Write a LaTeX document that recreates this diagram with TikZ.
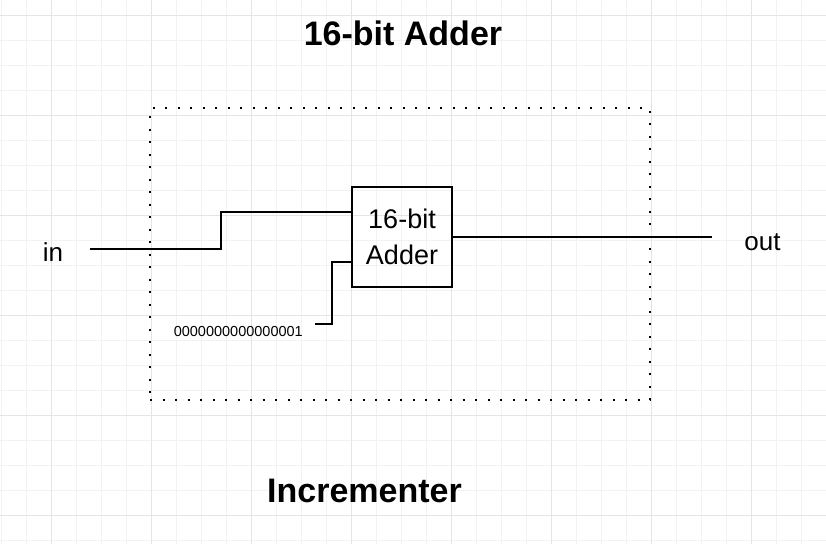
\documentclass[tikz,border=0pt]{standalone}
\usepackage{fontspec}
\setmainfont{Liberation Sans}
\begin{document}
\begin{tikzpicture}[x=1pt,y=-1pt,
  wire/.style={line width=2pt, line join=miter},
  gate/.style={draw, line width=2pt, minimum width=100pt, minimum height=100pt, inner sep=0pt, align=center, font=\fontsize{27}{36.5}\selectfont},
  framebox/.style={draw, line width=2pt, dash pattern=on 2pt off 10.5pt, minimum width=500pt, minimum height=292pt, inner sep=0pt},
  title/.style={font=\fontsize{34}{40}\selectfont\bfseries, anchor=base, inner sep=0pt},
  port/.style={font=\fontsize{26}{30}\selectfont, anchor=base, inner sep=0pt},
  small/.style={font=\fontsize{14.5}{17}\selectfont, anchor=base, inner sep=0pt}]
\useasboundingbox (0,0) rectangle (826,544);
\fill[white] (0,0) rectangle (826,544);
% grid
\foreach \x in {1.7,26.7,...,826} {\draw[line width=0.8pt, color=black!5] (\x,0) -- (\x,544);}
\foreach \y in {15,40,...,544} {\draw[line width=0.8pt, color=black!5] (0,\y) -- (826,\y);}
\foreach \x in {51.7,151.7,...,826} {\draw[line width=1pt, color=black!10] (\x,0) -- (\x,544);}
\foreach \y in {15,115,...,544} {\draw[line width=1pt, color=black!10] (0,\y) -- (826,\y);}
% frame
\node[framebox] (frame) at (400,254) {};
% labels
\node[title] (ttl) at (403,45) {16-bit Adder};
\node[title] (inc) at (364.5,502) {Incrementer};
\node[port] (inlab) at (53,261.7) {in};
\node[port] (outlab) at (762.5,250) {out};
\node[small] (const) at (238.3,336.7) {0000000000000001};
% adder
\node[gate] (adder) at (402,237) {16-bit\\Adder};
% wires
\coordinate (inend) at (90,249);
\coordinate (constend) at (315,324);
\coordinate (outend) at (711.7,237);
\draw[wire] (inend) -- (221,249) |- ([yshift=25pt]adder.west);
\draw[wire] (constend) -- (332,324) |- ([yshift=-25pt]adder.west);
\draw[wire] (adder.east) -- (outend);
\end{tikzpicture}
\end{document}
